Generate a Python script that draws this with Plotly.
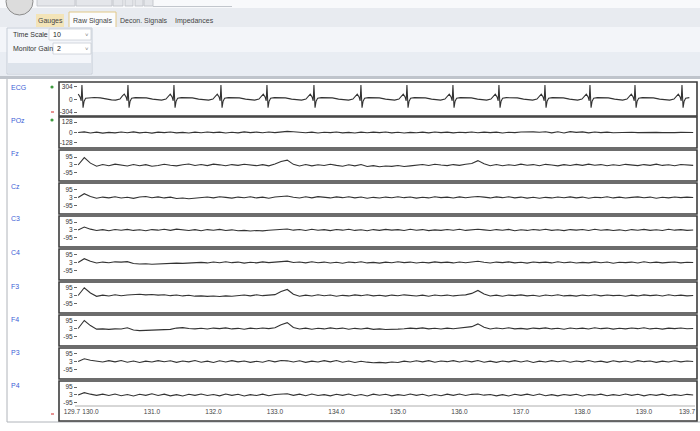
import numpy as np
import plotly.graph_objects as go

# ---------------- data ----------------
CHANNELS = ["ECG", "POz", "Fz", "Cz", "C3", "C4", "F3", "F4", "P3", "P4"]
T0 = 129.8          # first sample time (s)
DT = 0.1            # sample spacing of EEG arrays (s)
T_END = 139.8

X_TICKS = [129.7, 130.0, 131.0, 132.0, 133.0, 134.0, 135.0, 136.0, 137.0, 138.0, 139.0, 139.7]

ECG_TICKS = [-304, 0, 304]
POZ_TICKS = [-128, 0, 128]
EEG_TICKS = [-95, 3, 95]

ECG_R_TIMES = [129.862, 130.610, 131.358, 132.122, 132.870, 133.634, 134.398,
               135.146, 135.894, 136.642, 137.390, 138.122, 138.854, 139.618]
BEAT_OFFSETS = [-0.20, -0.13, -0.09, -0.06, -0.03, -0.012, 0.0, 0.018, 0.035,
                0.06, 0.12, 0.20, 0.30, 0.40, 0.48]
BEAT_VALUES = [-15, 10, 90, 130, 60, -30, 350, -200, -40, 30, 45, 50, 40, 10, -10]

POz = [0, 8, -6, 4, -8, 2, -5, 6, -3, 7, -4, 3, -7, 5, -2, 6, -5, 2, -6, 4,
       -3, 7, -2, 5, -6, 3, -4, 8, -1, 5, -3, 6, -2, 10, 14, 9, 4, -3, 5, -6,
       3, -2, 6, -5, 2, -7, 4, -3, 5, -2, 7, -4, 3, -6, 2, -3, 5, -4, 6, -2,
       4, -5, 3, -2, 6, -3, 5, -1, 4, -6, 3, -2, 7, 12, 8, 3, 10, -4, 9, -6,
       11, 2, 8, -5, 6, -2, 4, -3, 2, -1, 3, -2, 1, -3, 2, -1, 3, -2, 1, -2, 0]

Fz = [0, 88, 22, -14, 6, -8, 10, -4, -12, 5, -9, 4, -15, -6, 8, -3, -10, 3, 12, -5,
      6, -7, 10, 2, -9, 5, -4, 9, 0, -8, 4, -10, 12, 42, 58, 8, -12, 5, -10, 3,
      -6, 8, -4, -14, 2, -10, 5, -18, -8, -20, -12, -16, -6, -18, -10, -4, 6, -6, 9, 0,
      -7, 5, -4, 8, 18, 52, 14, -8, 6, -9, 3, -6, 10, -3, 5, -8, 8, 0, -10, 4,
      -6, 7, -4, 10, -3, 5, -9, 3, -6, 8, 0, -7, 5, -4, 10, -5, 3, -9, 6, 0, -4]

Cz = [0, 45, 12, -8, 5, -4, 8, -6, 3, -10, 6, 12, -3, 7, -5, 4, -12, -6, -15, -8,
      -3, 6, -4, 9, 2, -7, 5, -3, 8, -5, 4, -8, 6, 14, 18, 2, -6, 8, -4, 10,
      3, -5, 7, -2, 9, -4, 6, -8, 2, -6, 5, -3, 8, -2, 6, -7, 3, -5, 9, -1,
      4, -6, 7, -3, 6, 12, 4, -5, 7, -2, 8, -4, 5, -7, 3, -9, 2, -5, 6, -3,
      7, -4, 5, -8, 3, -2, 8, -5, 4, -6, 2, 7, -3, 5, -8, 3, -4, 6, -2, 4, 0]

C3 = [0, 35, 10, -6, 4, -8, 6, -3, 7, -5, 3, -9, 5, -2, 8, -4, 10, 3, -6, 4,
      -8, 5, -3, 7, -6, 2, -9, -4, -12, -6, -10, -3, 5, 10, 12, -2, 6, -5, 8, -3,
      4, -7, 6, -2, 9, -5, 3, -8, 5, -4, 7, -1, 4, -6, 8, -3, 5, -7, 2, -4,
      6, -3, 8, -5, 4, 9, 2, -6, 5, -3, 7, -8, 3, -5, 6, -2, 8, -4, 3, -7,
      5, -2, 6, -5, 9, -3, 4, -6, 2, -8, 5, -3, 7, -4, 3, -6, 8, -2, 4, -5, 0]

C4 = [0, 45, 14, -6, 5, -3, 8, 4, 10, -12, -18, -14, -20, -15, -17, -12, -8, -10, -4, -6,
      2, -5, 6, -3, 8, -2, 5, -7, 3, -4, 7, -2, 5, 12, 16, 0, 6, -4, 9, -3,
      5, -6, 3, -8, 6, -2, 8, -5, 2, -7, 4, -3, 9, -1, 5, -6, 3, -4, 7, -2,
      4, -5, 6, -3, 8, 14, 3, -6, 5, -2, 7, -4, 3, -7, 6, -1, 4, -5, 8, -3,
      5, -6, 2, -4, 7, -3, 6, -8, 3, -2, 5, -6, 8, -3, 4, -5, 2, 6, -4, 3, 0]

F3 = [0, 92, 30, -10, 4, -6, 9, -3, 6, 10, 14, 8, 12, 5, 9, -2, 6, -5, 3, -8,
      -4, -10, -6, -12, -5, -9, -3, 6, -4, 8, -2, 5, 10, 48, 72, 15, -8, 4, -6, 8,
      -3, 6, -8, 2, -5, 7, -2, 9, -4, 3, -7, 5, -3, 8, 0, -6, 4, -8, 6, -3,
      5, -5, 3, 8, 25, 60, 18, -6, 4, -8, 5, -2, 7, -4, 3, -9, 6, -3, 8, -5,
      2, -7, 5, -3, 9, -4, 6, -2, 3, -8, 4, -5, 7, -1, 5, -6, 8, -3, 4, -5, 0]

F4 = [0, 95, 35, -8, -5, -10, -4, -6, 8, -18, -25, -22, -18, -20, -14, -10, 5, 10, 0, -4,
      3, -6, 5, -2, 7, -5, 2, -8, 4, -3, 6, -1, 8, 45, 70, 12, -6, 4, -9, 3,
      -5, 7, -3, 5, -8, 2, -6, 4, -10, -4, -12, -6, -8, -3, 5, -2, 7, -4, 3, -6,
      4, -3, 6, 10, 22, 55, 15, -5, 6, -3, 8, -4, 2, -7, 5, -2, 7, -5, 3, -8,
      6, -3, 4, -6, 8, -2, 5, -7, 3, -4, 6, -2, 9, -5, 3, -7, 4, -2, 6, -3, 0]

P3 = [0, 32, 14, 6, -6, 10, -4, 12, -8, 6, -12, 4, -6, 10, -2, 8, -10, 6, -4, 12,
      -8, 4, -12, 8, -6, 10, -4, 6, -10, 2, -8, 12, -4, 12, 8, -6, 8, -10, 4, -6,
      10, -4, 12, -8, 6, -12, 2, -8, -14, -10, -16, -6, -12, 4, -6, 8, -4, 10, -8, 6,
      -2, 10, -6, 8, -4, 12, -8, 4, -10, 6, -4, 10, -6, 8, -12, 4, -6, 10, -2, 8,
      -8, 6, -4, 12, -6, 4, -10, 8, -4, 6, -8, 10, -2, 6, -10, 4, -6, 8, -4, 6, 0]

P4 = [0, 28, 10, -4, 10, -6, 12, -8, 6, -12, 8, -4, 14, -6, 10, -10, 4, -12, 8, -4,
      12, -6, 6, -10, 12, -4, 8, -12, 4, -6, 10, -8, 6, 12, 14, -4, 10, -8, 12, -6,
      4, -10, 8, -4, 12, -8, 6, -12, 10, -2, 8, -10, 4, -6, 12, -4, 8, -12, 6, -8,
      10, -4, 12, -6, 8, 12, -2, 6, -10, 4, -12, 8, -4, 10, -6, 12, -8, 4, -10, 6,
      -4, 8, -12, 6, -2, 10, -8, 4, -6, 12, -4, 8, -10, 6, -4, 10, -8, 4, -6, 8, 0]

EEG = {"POz": POz, "Fz": Fz, "Cz": Cz, "C3": C3, "C4": C4,
       "F3": F3, "F4": F4, "P3": P3, "P4": P4}

# ---------------- layout geometry (pixels) ----------------
W, H = 700, 431
def px(x): return x / W
def py(y): return 1 - y / H

ROW_TOP = [82, 117, 150, 183, 216, 249, 282, 315, 348, 381]
ROW_BOT = [116, 148, 181, 214, 247, 280, 313, 346, 379, 421]
DOM_TOP = [83, 118, 151, 184, 217, 250, 283, 316, 349, 382]
DOM_BOT = [115, 147, 180, 213, 246, 279, 312, 345, 378, 406]
CENTER = [99.5, 132.5, 165, 197.5, 230, 262.5, 295.5, 328.5, 361.5, 395]
UPP = [24.3, 12.2, 11.9, 11.9, 11.9, 11.9, 11.9, 11.9, 11.9, 11.9]
LABEL_Y = [87, 120, 153, 186, 219, 252, 286, 319, 352, 385]
X_RANGE = [129.554, 139.846]
LINE_COLOR = "#333333"
FONT = "Liberation Sans"

fig = go.Figure()

# ECG trace from beat times and beat shape
ecg_t, ecg_v = [], []
for r in ECG_R_TIMES:
    for o, v in zip(BEAT_OFFSETS, BEAT_VALUES):
        t = r + o
        if T0 <= t <= T_END:
            ecg_t.append(t)
            ecg_v.append(v)

layout = {}
for i, ch in enumerate(CHANNELS):
    k = "" if i == 0 else str(i + 1)
    if ch == "ECG":
        xs, ys = ecg_t, ecg_v
        ticks = ECG_TICKS
    else:
        ys = EEG[ch]
        xs = (T0 + DT * np.arange(len(ys))).tolist()
        ticks = POZ_TICKS if ch == "POz" else EEG_TICKS
    fig.add_trace(go.Scatter(x=xs, y=ys, mode="lines",
                             line=dict(color=LINE_COLOR, width=1.1),
                             xaxis="x" + k, yaxis="y" + k,
                             hoverinfo="skip", showlegend=False))
    lo = -(DOM_BOT[i] - CENTER[i]) * UPP[i]
    hi = (CENTER[i] - DOM_TOP[i]) * UPP[i]
    layout["yaxis" + k] = dict(
        domain=[py(DOM_BOT[i]), py(DOM_TOP[i])], range=[lo, hi],
        anchor="free", position=px(77),
        tickvals=ticks, ticktext=[str(t) for t in ticks],
        ticks="outside", ticklen=3, tickcolor="#666", tickwidth=1,
        tickfont=dict(size=6.5, color="#333", family=FONT),
        showgrid=False, zeroline=False, showline=False, fixedrange=True)
    xa = dict(domain=[px(63), px(696)], range=X_RANGE, anchor="y" + k,
              showgrid=False, zeroline=False, showline=False, fixedrange=True)
    if i == len(CHANNELS) - 1:
        xa.update(tickvals=X_TICKS, ticktext=["%.1f" % v for v in X_TICKS],
                  ticks="", tickangle=0,
                  tickfont=dict(size=6.5, color="#444", family=FONT))
    else:
        xa.update(showticklabels=False, ticks="")
    layout["xaxis" + k] = xa

shapes = []
def rect(x0, y0, x1, y1, fill=None, line=None, lw=1, layer="below"):
    shapes.append(dict(type="rect", xref="paper", yref="paper",
                       x0=px(x0), x1=px(x1), y0=py(y1), y1=py(y0),
                       fillcolor=fill or "rgba(0,0,0,0)",
                       line=dict(color=line or "rgba(0,0,0,0)", width=lw if line else 0),
                       layer=layer))
def seg(x0, y0, x1, y1, color, lw=1, layer="below"):
    shapes.append(dict(type="line", xref="paper", yref="paper",
                       x0=px(x0), x1=px(x1), y0=py(y0), y1=py(y1),
                       line=dict(color=color, width=lw), layer=layer))
def dot(x, y, r, color):
    shapes.append(dict(type="circle", xref="paper", yref="paper",
                       x0=px(x - r), x1=px(x + r), y0=py(y + r), y1=py(y - r),
                       fillcolor=color, line=dict(width=0), layer="above"))

# top title strip & quick access
rect(0, 0, 700, 8, fill="#f8f9fb")
for a, b in [(37, 75), (76, 112), (113, 123), (125, 133), (135, 143), (144, 153)]:
    rect(a, -2, b, 6, fill="#e4e6ea", line="#bcc0c7", lw=0.8)
seg(153, 6.5, 232, 6.5, "#c2c6cc", 1)
# tab strip
rect(0, 8, 700, 27, fill="#e8ebf0")
# orb
shapes.append(dict(type="circle", xref="paper", yref="paper",
                   x0=px(6), x1=px(33), y0=py(15), y1=py(-12),
                   fillcolor="#dcdcdc", line=dict(color="#8c8c8c", width=1), layer="below"))
# tabs
rect(36, 14, 64, 27, fill="#f3e4b8")
rect(69, 12, 116, 28, fill="#fbfcfd", line="#e2c888", lw=1)
# ribbon
rect(0, 27, 700, 52, fill="#f3f5f9")
rect(0, 52, 700, 76, fill="#e9edf3")
rect(7, 28, 92, 74, fill="#f4f6fa", line="#c6cdd7", lw=1)
rect(8, 63, 91, 73, fill="#dde3eb")
rect(49, 29, 91, 40, fill="#ffffff", line="#c9ced6", lw=0.8)
rect(53, 43, 91, 54, fill="#ffffff", line="#c9ced6", lw=0.8)
rect(0, 76, 700, 79, fill="#bfc4cb")
# content border
seg(7, 79, 7, 422, "#b0b4ba", 1)
seg(7, 422, 700, 422, "#b0b4ba", 1)
# x axis line
seg(75, 406, 695, 406, "#9a9a9a", 0.8, layer="above")
# row frames
for i in range(len(CHANNELS)):
    rect(59, ROW_TOP[i], 697, ROW_BOT[i], line="#3c3c3c", lw=1.6, layer="above")
# status marks
dot(52, 87, 1.6, "#3f9b3f")
dot(52, 120, 1.6, "#3f9b3f")
seg(51, 112, 54, 112, "#e07070", 1.5, layer="above")
seg(51, 414, 54, 414, "#e07070", 1.5, layer="above")

ann = []
def text(x, y, s, size=7, color="#333", anchor="left"):
    ann.append(dict(x=px(x), y=py(y), xref="paper", yref="paper", text=s,
                    showarrow=False, xanchor=anchor, yanchor="middle",
                    font=dict(size=size, color=color, family=FONT)))

text(50, 20.5, "Gauges", anchor="center", color="#444")
text(92.5, 20.5, "Raw Signals", anchor="center", color="#444")
text(144, 20.5, "Decon. Signals", anchor="center", color="#444")
text(194, 20.5, "Impedances", anchor="center", color="#444")
text(11, 34.5, "Time Scale", color="#333")
text(51, 34.5, "10", color="#222")
text(86.5, 35, "\u02c5", size=6, color="#777", anchor="center")
text(11, 48.5, "Monitor Gain", color="#333")
text(55, 48.5, "2", color="#222")
text(86.5, 49, "\u02c5", size=6, color="#777", anchor="center")
for ch, y in zip(CHANNELS, LABEL_Y):
    text(9, y, ch, size=7, color="#3c5fd6")

fig.update_layout(**layout)
fig.update_layout(width=W, height=H, autosize=False,
                  margin=dict(l=0, r=0, t=0, b=0),
                  paper_bgcolor="#ffffff", plot_bgcolor="rgba(0,0,0,0)",
                  shapes=shapes, annotations=ann, showlegend=False,
                  font=dict(family=FONT))

fig.write_html("out.html", config={"displayModeBar": False},
               post_script="document.body.style.margin='0px';"
                           "document.body.style.overflow='hidden';")
